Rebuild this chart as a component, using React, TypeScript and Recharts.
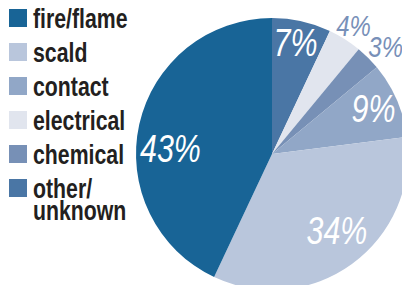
import React from "react";
import { PieChart, Pie, Cell, Legend } from "recharts";

const categories = ["other/unknown", "electrical", "chemical", "contact", "scald", "fire/flame"];
const values = [7, 4, 3, 9, 34, 43];
const labels = ["7%", "4%", "3%", "9%", "34%", "43%"];
const colors = ["#4a76a5", "#e1e5ee", "#7790b6", "#91a7c7", "#b9c6dc", "#186496"];
const legendOrder = ["fire/flame", "scald", "contact", "electrical", "chemical", "other/"];
const legendExtra = ["", "", "", "", "", "unknown"];
const legendColors = ["#186496", "#b9c6dc", "#91a7c7", "#e1e5ee", "#7790b6", "#4a76a5"];

const data = categories.map((name, i) => ({ name, value: values[i] }));

// label placement style: radius factor and angle tweak per slice
const labelStyle = [
  { r: 0.84, da: 0.7, size: 38, fill: "#ffffff" },
  { r: 1.12, da: 0, size: 30, fill: "#7890b8" },
  { r: 1.15, da: -1.6, size: 30, fill: "#7890b8" },
  { r: 0.82, da: 1, size: 38, fill: "#ffffff" },
  { r: 0.735, da: 4.5, size: 38, fill: "#ffffff" },
  { r: 0.748, da: 9.2, size: 38, fill: "#ffffff" },
];

const RAD = Math.PI / 180;
const FONT = "'Liberation Sans', Arial, sans-serif";

const renderLabel = (props: any) => {
  const { cx, cy, midAngle, outerRadius, index } = props;
  const s = labelStyle[index];
  const a = (midAngle + s.da) * RAD;
  const x = cx + outerRadius * s.r * Math.cos(a);
  const y = cy - outerRadius * s.r * Math.sin(a) + s.size * 0.36;
  return (
    <text
      transform={`translate(${x},${y}) scale(0.8,1)`}
      x={0}
      y={0}
      fill={s.fill}
      textAnchor="middle"
      fontFamily={FONT}
      fontStyle="italic"
      fontSize={s.size}
    >
      {labels[index]}
    </text>
  );
};

const renderLegend = () => (
  <svg width={140} height={230} style={{ display: "block" }}>
    {legendOrder.map((name, i) => (
      <g key={name}>
        <rect x={9} y={9 + i * 34} width={18} height={18} fill={legendColors[i]} />
        <text
          transform={`translate(33,${28 + i * 34}) scale(0.76,1)`}
          fontFamily={FONT}
          fontWeight="bold"
          fontSize={28}
          fill="#231f20"
        >
          <tspan x={0} y={0}>{name}</tspan>
          {legendExtra[i] ? <tspan x={0} y={22}>{legendExtra[i]}</tspan> : null}
        </text>
      </g>
    ))}
  </svg>
);

export default function App() {
  return (
    <div style={{ position: "absolute", left: 0, top: 0 }}>
      <PieChart width={402} height={285} margin={{ top: 0, right: 0, bottom: 0, left: 0 }}>
        <Pie
          data={data}
          dataKey="value"
          nameKey="name"
          cx={272}
          cy={154}
          outerRadius={136}
          startAngle={90}
          endAngle={-270}
          stroke="none"
          label={renderLabel}
          labelLine={false}
          isAnimationActive={false}
        >
          {data.map((d, i) => (
            <Cell key={d.name} fill={colors[i]} />
          ))}
        </Pie>
        <Legend content={renderLegend} wrapperStyle={{ left: 0, top: 0, width: 140 }} />
      </PieChart>
    </div>
  );
}
